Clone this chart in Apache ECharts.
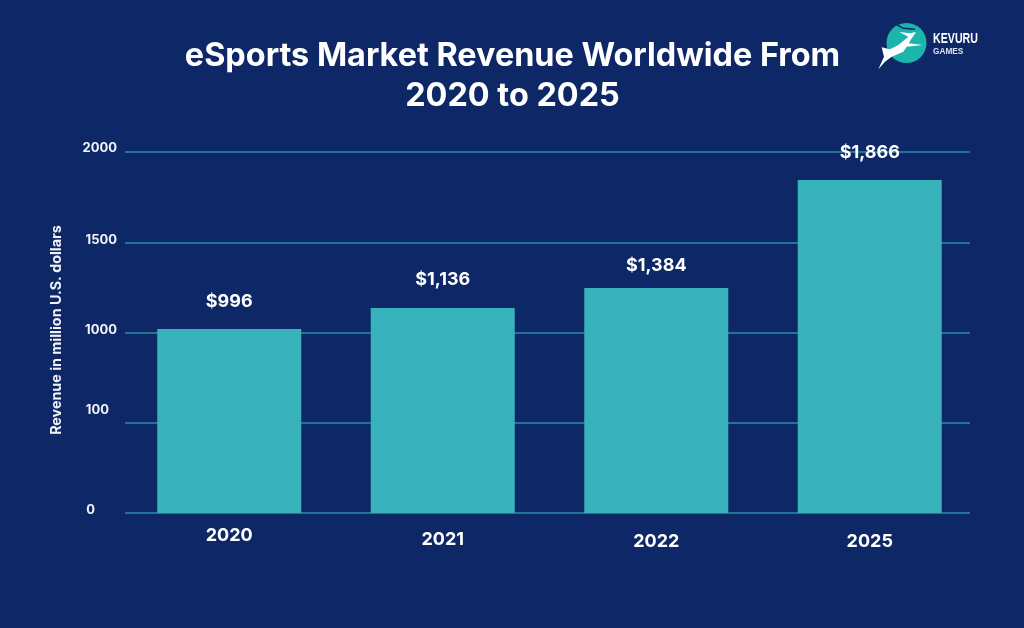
<!DOCTYPE html>
<html>
<head>
<meta charset="utf-8">
<title>eSports Market Revenue</title>
<script src="https://cdn.jsdelivr.net/npm/echarts@6/dist/echarts.min.js"></script>
<style>
html, body { margin: 0; padding: 0; background: #0E2766; }
#chart { width: 1024px; height: 628px; }
</style>
</head>
<body>
<div id="chart"></div>
<script>
var categories = ['2020', '2021', '2022', '2025'];
var barValues = [1019, 1136, 1246, 1845];
var barLabels = ['$996', '$1,136', '$1,384', '$1,866'];
var tickValues = [0, 500, 1000, 1500, 2000];
var tickLabels = ['0', '100', '1000', '1500', '2000'];

var fontName = 'Inter';
var white = '#FFFFFF';
var tickRich = {};
// the labels in the source sit a bit unevenly, so each one gets its own nudge
var tickNudge = [[6, 22], [26, 8], [4, 0], [4, 0], [8, 0]];
tickValues.forEach(function (v, i) {
    tickRich['t' + i] = {
        color: '#F1F3F8', fontFamily: fontName, fontSize: 13, fontWeight: 700,
        padding: [0, tickNudge[i][1], tickNudge[i][0], 0]
    };
});
var labelGap = [18, 19, 14, 18];
var catPad = [0, 4, 6, 6];
var catRich = {};
catPad.forEach(function (p, i) {
    catRich['c' + i] = { color: white, fontFamily: fontName, fontSize: 18, fontWeight: 700, padding: [p, 0, 0, 0] };
});

// logo outline, drawn in zoomed-crop units then moved into place
function logoPoint(p) { return [860 + p[0] / 3, 10 + p[1] / 3]; }
var deer = [[55, 178], [72, 140], [65, 112], [90, 118], [115, 105], [145, 80], [118, 66], [150, 70], [168, 66], [152, 90], [146, 100], [188, 105], [140, 110], [130, 125], [95, 140], [75, 155]];
var logoCut = [[112, 45], [130, 55], [165, 58]];

var myChart = echarts.init(document.getElementById('chart'));
myChart.setOption({
    backgroundColor: '#0E2766',
    animation: false,
    title: {
        text: 'eSports Market Revenue Worldwide From\n2020 to 2025',
        left: 507.5,
        top: 31,
        textAlign: 'center',
        textStyle: { color: white, fontFamily: fontName, fontSize: 32.4, fontWeight: 700, lineHeight: 40 }
    },
    grid: [
        { left: 125, right: 54, top: 152, height: 361 },
        { left: 122.5, right: 47.5, top: 152, height: 361 }
    ],
    xAxis: [
        { type: 'category', gridIndex: 0, show: false, data: categories },
        {
            type: 'category', gridIndex: 1, data: categories,
            axisLine: { show: false }, axisTick: { show: false },
            axisLabel: {
                margin: 14,
                formatter: function (v, i) { return '{c' + i + '|' + v + '}'; },
                rich: catRich
            }
        }
    ],
    yAxis: [
        {
            type: 'value', gridIndex: 0, min: 0, max: 2000, interval: 500,
            name: 'Revenue in million U.S. dollars',
            nameLocation: 'middle', nameGap: 61, nameRotate: 90,
            nameTextStyle: { color: '#F1F3F8', fontFamily: fontName, fontSize: 14.3, fontWeight: 700, padding: [0, 0, 0, 5] },
            axisLine: { show: false }, axisTick: { show: false },
            splitLine: { lineStyle: { color: '#2A8FA8', width: 1.5 } },
            axisLabel: {
                margin: 8,
                formatter: function (v) {
                    var i = tickValues.indexOf(v);
                    return '{t' + i + '|' + tickLabels[i] + '}';
                },
                rich: tickRich
            }
        },
        { type: 'value', gridIndex: 1, min: 0, max: 2000, interval: 500, show: false }
    ],
    series: [{
        name: 'Revenue',
        type: 'bar',
        xAxisIndex: 1,
        yAxisIndex: 1,
        barWidth: 144,
        itemStyle: { color: '#38B3BC' },
        label: {
            show: true,
            position: 'top',
            color: white,
            fontFamily: fontName,
            fontSize: 18,
            fontWeight: 700,
            formatter: function (p) { return barLabels[p.dataIndex]; }
        },
        data: barValues.map(function (v, i) {
            return { value: v, label: { distance: labelGap[i] } };
        })
    }],
    graphic: [
        { type: 'circle', shape: { cx: 906.5, cy: 43, r: 20 }, style: { fill: '#1BB5AC' } },
        { type: 'polyline', shape: { points: logoCut.map(logoPoint) }, style: { stroke: '#0E2766', lineWidth: 1.5, fill: null } },
        { type: 'polygon', shape: { points: deer.map(logoPoint) }, style: { fill: '#FFFFFF' } },
        { type: 'text', x: 933, y: 32, scaleX: 0.76, style: { text: 'KEVURU', fill: white, font: 'bold 14px "Liberation Sans"', letterSpacing: 2 } },
        { type: 'text', x: 933, y: 47, scaleX: 0.92, style: { text: 'GAMES', fill: '#DDE3EE', font: 'bold 9px "Liberation Sans"', letterSpacing: 2.5 } }
    ]
});
</script>
</body>
</html>
